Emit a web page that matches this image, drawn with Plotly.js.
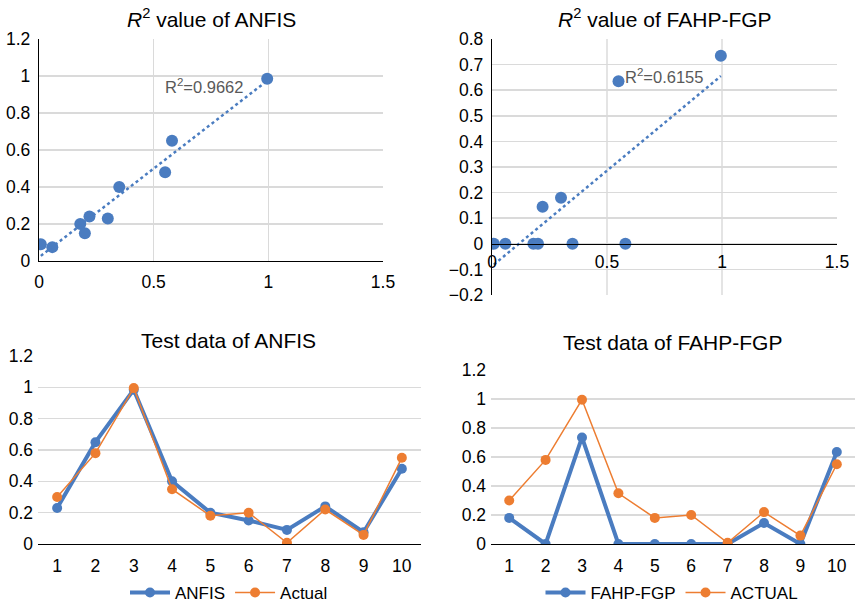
<!DOCTYPE html>
<html>
<head>
<meta charset="utf-8">
<script src="https://cdn.plot.ly/plotly-3.0.1.min.js"></script>
<style>html,body{margin:0;padding:0;background:#fff;}#chart{width:855px;height:604px;}</style>
</head>
<body>
<div id="chart"></div>
<script>
// ---- data ----
const categories = ['1','2','3','4','5','6','7','8','9','10'];
const anfisPred  = [0.23, 0.65, 0.985, 0.40, 0.20, 0.15, 0.09, 0.24, 0.075, 0.48];
const actual     = [0.30, 0.58, 0.995, 0.35, 0.18, 0.20, 0.008, 0.22, 0.058, 0.55];
const fahpPred   = [0.18, 0.0, 0.735, 0.0, 0.0, 0.0, 0.0, 0.145, 0.0, 0.635];
const r2Anfis = 'R<sup>2</sup>=0.9662';
const r2Fahp  = 'R<sup>2</sup>=0.6155';

// ---- helpers ----
function fit(x, y) {
  const n = x.length;
  const mx = x.reduce((a,b)=>a+b,0)/n, my = y.reduce((a,b)=>a+b,0)/n;
  let sxy = 0, sxx = 0;
  for (let i=0;i<n;i++){ sxy += (x[i]-mx)*(y[i]-my); sxx += (x[i]-mx)*(x[i]-mx); }
  const m = sxy/sxx, b = my - m*mx;
  const x0 = Math.min(...x), x1 = Math.max(...x);
  return {x:[x0,x1], y:[m*x0+b, m*x1+b]};
}

const BLUE = '#4a7cc0', ORANGE = '#ed7d31', GRID = '#dadada';
const FAM = 'Liberation Sans, Arial, sans-serif';
const FONT = {family: FAM, size: 17.5, color: '#000'};
const W = 855, H = 604;
const px = v => v / W, py = v => 1 - v / H;

const t1 = fit(actual, anfisPred);
const t2 = fit(actual, fahpPred);

const traces = [
  {x: actual, y: anfisPred, type: 'scatter', mode: 'markers', xaxis: 'x', yaxis: 'y',
   marker: {color: BLUE, size: 12}, showlegend: false},
  {x: t1.x, y: t1.y, type: 'scatter', mode: 'lines', xaxis: 'x', yaxis: 'y',
   line: {color: BLUE, width: 2.5, dash: 'dot'}, showlegend: false},
  {x: actual, y: fahpPred, type: 'scatter', mode: 'markers', xaxis: 'x2', yaxis: 'y2',
   marker: {color: BLUE, size: 12}, showlegend: false},
  {x: t2.x, y: t2.y, type: 'scatter', mode: 'lines', xaxis: 'x2', yaxis: 'y2',
   line: {color: BLUE, width: 2.5, dash: 'dot'}, showlegend: false},
  {x: categories, y: anfisPred, name: 'ANFIS', type: 'scatter', mode: 'lines+markers', xaxis: 'x3', yaxis: 'y3',
   line: {color: BLUE, width: 4}, marker: {color: BLUE, size: 10}, legend: 'legend'},
  {x: categories, y: actual, name: 'Actual', type: 'scatter', mode: 'lines+markers', xaxis: 'x3', yaxis: 'y3',
   line: {color: ORANGE, width: 1.5}, marker: {color: ORANGE, size: 10}, legend: 'legend'},
  {x: categories, y: fahpPred, name: 'FAHP-FGP', type: 'scatter', mode: 'lines+markers', xaxis: 'x4', yaxis: 'y4',
   line: {color: BLUE, width: 4}, marker: {color: BLUE, size: 10}, legend: 'legend2'},
  {x: categories, y: actual, name: 'ACTUAL', type: 'scatter', mode: 'lines+markers', xaxis: 'x4', yaxis: 'y4',
   line: {color: ORANGE, width: 1.5}, marker: {color: ORANGE, size: 10}, legend: 'legend2'}
];

const grid = {showgrid: true, gridcolor: GRID, gridwidth: 1.5, zeroline: false, ticks: ''};
const d2y0 = py(244); // y=0 position in top-right plot
const layout = {
  width: W, height: H,
  margin: {l: 0, r: 0, t: 0, b: 0, autoexpand: false},
  paper_bgcolor: '#fff', plot_bgcolor: '#fff',
  font: FONT,
  xaxis: Object.assign({domain: [px(39), px(383)], anchor: 'y', range: [0, 1.5], dtick: 0.5,
          showline: true, linecolor: '#000', linewidth: 1.2, ticklabelstandoff: 5}, grid),
  yaxis: Object.assign({domain: [py(261), py(39)], anchor: 'x', range: [0, 1.2], dtick: 0.2,
          showline: true, linecolor: '#000', linewidth: 1.2, ticklabelstandoff: 4}, grid),
  xaxis2: Object.assign({domain: [px(492), px(837)], anchor: 'free', position: d2y0, range: [0, 1.5], dtick: 0.5,
           showline: true, linecolor: '#000', linewidth: 1.2, ticklabelstandoff: 2}, grid, {gridcolor: '#e4e4e4', gridwidth: 1.2}),
  yaxis2: Object.assign({domain: [py(295), py(39)], anchor: 'x2', range: [-0.2, 0.8], dtick: 0.1,
           showline: true, linecolor: '#000', linewidth: 1.2, ticklabelstandoff: 4}, grid),
  xaxis3: {domain: [px(38), px(421)], anchor: 'y3', type: 'category', range: [-0.5, 9.5],
           showgrid: false, zeroline: false, showline: true, linecolor: '#000', linewidth: 1.2, ticks: '',
           ticklabelstandoff: 6},
  yaxis3: Object.assign({domain: [py(544), py(356)], anchor: 'x3', range: [0, 1.2], dtick: 0.2,
           showline: false, ticklabelstandoff: 4}, grid),
  xaxis4: {domain: [px(491), px(855)], anchor: 'y4', type: 'category', range: [-0.5, 9.5],
           showgrid: false, zeroline: false, showline: true, linecolor: '#000', linewidth: 1.2, ticks: '',
           ticklabelstandoff: 6},
  yaxis4: Object.assign({domain: [py(544), py(370)], anchor: 'x4', range: [0, 1.2], dtick: 0.2,
           showline: false, ticklabelstandoff: 4}, grid),
  legend: {orientation: 'h', x: px(229), xanchor: 'center', y: py(593), yanchor: 'middle', itemwidth: 40,
           font: {family: FAM, size: 17, color: '#000'}, bgcolor: 'rgba(0,0,0,0)'},
  legend2: {orientation: 'h', x: px(672), xanchor: 'center', y: py(593), yanchor: 'middle', itemwidth: 40,
            font: {family: FAM, size: 17, color: '#000'}, bgcolor: 'rgba(0,0,0,0)'},
  annotations: [
    {text: '<i>R</i><sup>2</sup> value of ANFIS', xref: 'paper', yref: 'paper', x: px(211), y: py(18),
     xanchor: 'center', yanchor: 'middle', showarrow: false, font: {family: FAM, size: 21, color: '#000'}},
    {text: '<i>R</i><sup>2</sup> value of FAHP-FGP', xref: 'paper', yref: 'paper', x: px(665), y: py(18),
     xanchor: 'center', yanchor: 'middle', showarrow: false, font: {family: FAM, size: 21, color: '#000'}},
    {text: 'Test data of ANFIS', xref: 'paper', yref: 'paper', x: px(228), y: py(340),
     xanchor: 'center', yanchor: 'middle', showarrow: false, font: {family: FAM, size: 21, color: '#000'}},
    {text: 'Test data of FAHP-FGP', xref: 'paper', yref: 'paper', x: px(672), y: py(342),
     xanchor: 'center', yanchor: 'middle', showarrow: false, font: {family: FAM, size: 21, color: '#000'}},
    {text: r2Anfis, xref: 'paper', yref: 'paper', x: px(163), y: py(86),
     xanchor: 'left', yanchor: 'middle', showarrow: false, font: {family: FAM, size: 16.5, color: '#595959'}},
    {text: r2Fahp, xref: 'paper', yref: 'paper', x: px(623), y: py(76),
     xanchor: 'left', yanchor: 'middle', showarrow: false, font: {family: FAM, size: 16.5, color: '#595959'}}
  ]
};

Plotly.newPlot('chart', traces, layout, {displayModeBar: false, staticPlot: true});
</script>
</body>
</html>
